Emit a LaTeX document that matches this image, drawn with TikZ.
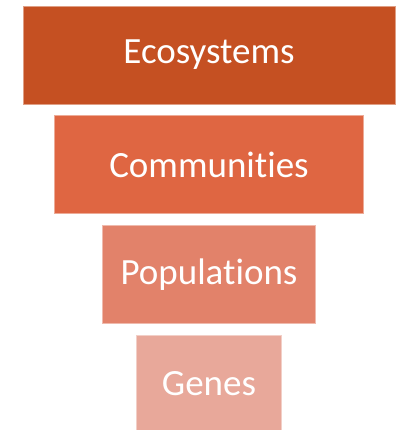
\documentclass[tikz,border=0pt]{standalone}
\usepackage{fontspec}
\setmainfont{Carlito}[Ligatures=NoCommon]
\usetikzlibrary{positioning}
\definecolor{ecoorange}{HTML}{C55022}
\definecolor{commorange}{HTML}{DF6642}
\definecolor{poporange}{HTML}{E2826A}
\definecolor{genepink}{HTML}{E8A89A}

\tikzset{
    level/.style={rectangle, minimum height=98pt, inner sep=0pt, text=white,
        font=\fontsize{37}{42}\selectfont, line width=0.6pt}
}

\begin{document}
\begin{tikzpicture}
    \useasboundingbox (0,0) rectangle (396pt,-430pt);
    
    \node[level, fill=ecoorange, draw=ecoorange!55!white, minimum width=372pt] (eco) at (209pt,-55pt) {Ecosystems};
    \node[level, fill=commorange, draw=commorange!55!white, minimum width=309pt, below=11pt of eco] (comm) {Communities};
    \node[level, fill=poporange, draw=poporange!55!white, minimum width=213pt, below=11pt of comm] (pop) {Populations};
    \node[level, fill=genepink, draw=genepink!55!white, minimum width=145pt, below=11pt of pop] (genes) {Genes};
\end{tikzpicture}
\end{document}
